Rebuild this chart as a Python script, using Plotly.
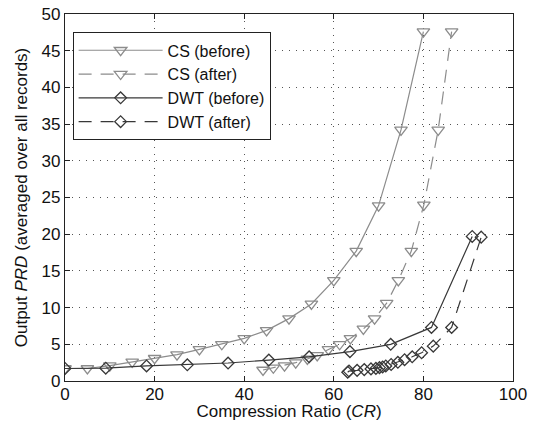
import plotly.graph_objects as go

# CS: same PRD values, CR shifted after
cs_before_cr = [0, 5, 10, 15, 20, 25, 30, 35, 40, 45, 50, 55, 60, 65, 70, 75, 80]
cs_before_prd = [1.7, 1.7, 2.1, 2.6, 3.1, 3.6, 4.3, 5.0, 5.8, 6.9, 8.5, 10.5, 13.7, 17.7, 23.9, 34.2, 47.6]
cs_after_cr = [44.2, 46.5, 49.0, 51.5, 54.1, 56.3, 58.8, 61.3, 63.7, 66.6, 69.1, 71.8, 74.4, 77.3, 80.1, 83.3, 86.3]
cs_after_prd = [1.5, 1.8, 2.1, 2.5, 3.0, 3.5, 4.3, 5.0, 5.8, 7.1, 8.5, 10.6, 13.7, 17.7, 24.0, 34.2, 47.6]

# DWT
dwt_before_cr = [0, 9.1, 18.2, 27.3, 36.4, 45.5, 54.5, 63.6, 72.7, 81.8, 90.9]
dwt_before_prd = [1.7, 1.75, 2.05, 2.2, 2.45, 2.85, 3.3, 4.0, 5.0, 7.3, 19.7]
dwt_after_cr = [63.1, 63.4, 65.2, 66.8, 68.3, 69.4, 70.2, 70.9, 71.6, 72.8, 74.3, 75.8, 77.5, 79.6, 82.2, 86.3, 92.9]
dwt_after_prd = [1.2, 1.35, 1.45, 1.55, 1.65, 1.72, 1.82, 1.92, 2.05, 2.25, 2.55, 2.9, 3.3, 3.85, 4.75, 7.3, 19.6]

CS_COLOR = "#8c8c8c"
DWT_COLOR = "#383838"
DASH = "13px,9px"

fig = go.Figure()

series = [
    ("CS (before)", cs_before_cr, cs_before_prd, CS_COLOR, "solid", "triangle-down-open", 11),
    ("CS (after)", cs_after_cr, cs_after_prd, CS_COLOR, DASH, "triangle-down-open", 11),
    ("DWT (before)", dwt_before_cr, dwt_before_prd, DWT_COLOR, "solid", "diamond-open", 9),
    ("DWT (after)", dwt_after_cr, dwt_after_prd, DWT_COLOR, DASH, "diamond-open", 9),
]
for name, x, y, color, dash, symbol, size in series:
    fig.add_trace(go.Scatter(
        x=x, y=y, name=name, mode="lines+markers",
        line=dict(color=color, width=1.2, dash=dash),
        marker=dict(symbol=symbol, size=size, color=color, line=dict(color=color, width=1.3)),
    ))

axis_common = dict(
    showline=True, linecolor="#222", linewidth=1.2, mirror="ticks",
    ticks="inside", ticklen=5, tickcolor="#222",
    showgrid=True, gridcolor="#555", gridwidth=1, griddash="1px,6px",
    zeroline=False, automargin=False,
)

fig.update_layout(
    width=536, height=421,
    margin=dict(l=65, r=23, t=14, b=40),
    paper_bgcolor="white", plot_bgcolor="white",
    font=dict(family="Liberation Sans, Arial, sans-serif", color="#111"),
    xaxis=dict(range=[0, 100], dtick=20, tickfont=dict(size=17, color="#111"),
               ticklabelstandoff=-3,
               title=dict(text="Compression Ratio (<i>CR</i>)", font=dict(size=17), standoff=0),
               **axis_common),
    yaxis=dict(range=[0, 50], dtick=5, tickfont=dict(size=17, color="#111"),
               title=dict(text="Output <i>PRD</i> (averaged over all records)", font=dict(size=17), standoff=9),
               **axis_common),
    legend=dict(
        x=0.017, y=0.95, xanchor="left", yanchor="top",
        bgcolor="white", bordercolor="#222", borderwidth=1,
        font=dict(size=16), itemwidth=84, tracegroupgap=0,
    ),
    showlegend=True,
)

# page body has an 8px default margin; drop it so the figure sits at the window corner
fig.write_html("out.html", config={"displayModeBar": False},
               post_script="document.body.style.margin='0';")
